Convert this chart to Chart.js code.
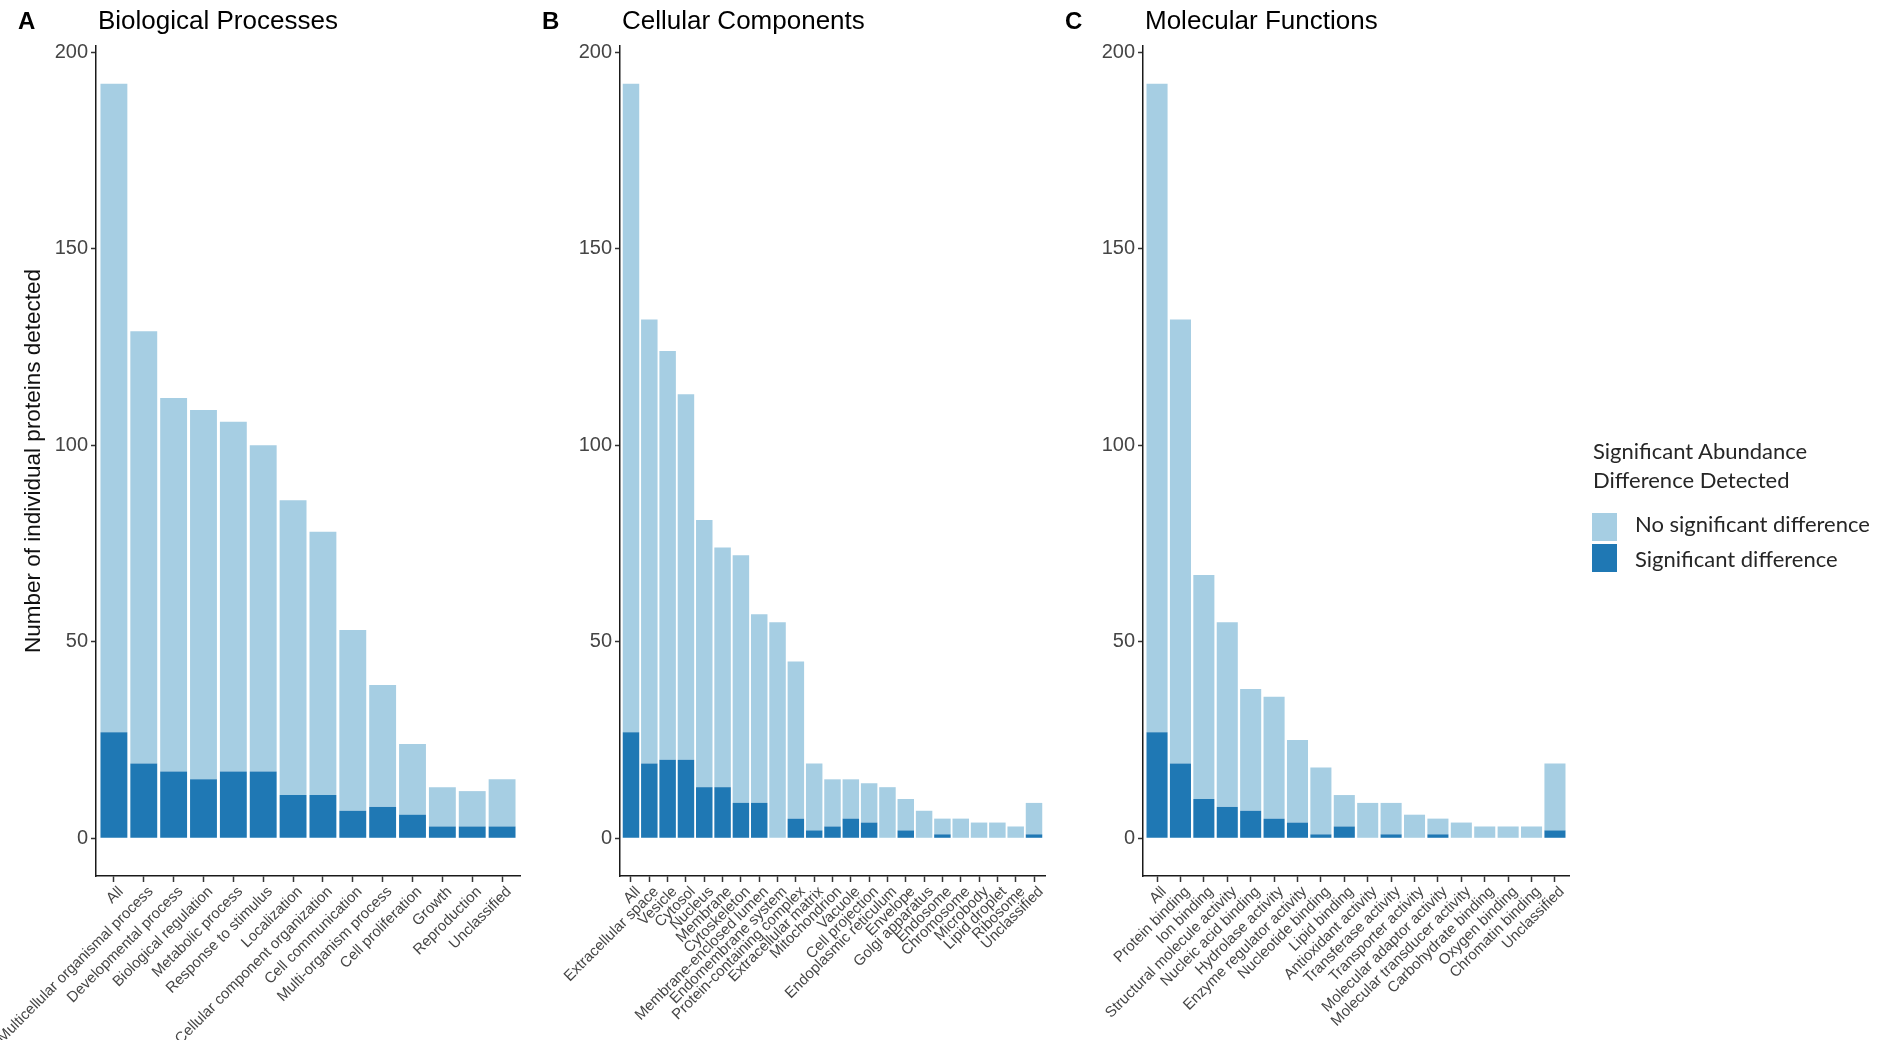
<!DOCTYPE html>
<html>
<head>
<meta charset="utf-8">
<script src="https://cdn.jsdelivr.net/npm/chart.js@4.4.0/dist/chart.umd.min.js"></script>
<style>
  html, body { margin: 0; padding: 0; background: #ffffff; }
  body { width: 1884px; height: 1040px; position: relative; overflow: hidden; }
  canvas { position: absolute; top: 0; }
  #legend { position: absolute; left: 0; top: 0; font-family: Lato, "Open Sans", sans-serif; color: #262626; }
  #legend .lt { position: absolute; left: 1593px; top: 436px; font-size: 22px; line-height: 29px; white-space: nowrap; }
  #legend .sw { position: absolute; left: 1592px; width: 25px; }
  #legend .lab { position: absolute; left: 1635px; font-size: 22px; line-height: 29px; white-space: nowrap; }
</style>
</head>
<body>
<canvas id="cA" width="560" height="1040" style="left:0px"></canvas>
<canvas id="cB" width="540" height="1040" style="left:540px"></canvas>
<canvas id="cC" width="560" height="1040" style="left:1060px"></canvas>
<div id="legend"></div>
<script>
// ---------------- data ----------------
const yTicks = [0, 50, 100, 150, 200];
const yTitle = 'Number of individual proteins detected';
const legendTitle = ['Significant Abundance', 'Difference Detected'];
const legendLabels = ['No significant difference', 'Significant difference'];

const bpTitle = 'Biological Processes';
const bpLabels = ['All', 'Multicellular organismal process', 'Developmental process', 'Biological regulation',
  'Metabolic process', 'Response to stimulus', 'Localization', 'Cellular component organization',
  'Cell communication', 'Multi-organism process', 'Cell proliferation', 'Growth', 'Reproduction', 'Unclassified'];
const bpSig   = [27, 19, 17, 15, 17, 17, 11, 11, 7, 8, 6, 3, 3, 3];
const bpNoSig = [165, 110, 95, 94, 89, 83, 75, 67, 46, 31, 18, 10, 9, 12];

const ccTitle = 'Cellular Components';
const ccLabels = ['All', 'Extracellular space', 'Vesicle', 'Cytosol', 'Nucleus', 'Membrane', 'Cytoskeleton',
  'Membrane-enclosed lumen', 'Endomembrane system', 'Protein-containing complex', 'Extracellular matrix',
  'Mitochondrion', 'Vacuole', 'Cell projection', 'Endoplasmic reticulum', 'Envelope', 'Golgi apparatus',
  'Endosome', 'Chromosome', 'Microbody', 'Lipid droplet', 'Ribosome', 'Unclassified'];
const ccSig   = [27, 19, 20, 20, 13, 13, 9, 9, 0, 5, 2, 3, 5, 4, 0, 2, 0, 1, 0, 0, 0, 0, 1];
const ccNoSig = [165, 113, 104, 93, 68, 61, 63, 48, 55, 40, 17, 12, 10, 10, 13, 8, 7, 4, 5, 4, 4, 3, 8];

const mfTitle = 'Molecular Functions';
const mfLabels = ['All', 'Protein binding', 'Ion binding', 'Structural molecule activity', 'Nucleic acid binding',
  'Hydrolase activity', 'Enzyme regulator activity', 'Nucleotide binding', 'Lipid binding', 'Antioxidant activity',
  'Transferase activity', 'Transporter activity', 'Molecular adaptor activity', 'Molecular transducer activity',
  'Carbohydrate binding', 'Oxygen binding', 'Chromatin binding', 'Unclassified'];
const mfSig   = [27, 19, 10, 8, 7, 5, 4, 1, 3, 0, 1, 0, 1, 0, 0, 0, 0, 2];
const mfNoSig = [165, 113, 57, 47, 31, 31, 21, 17, 8, 9, 8, 6, 4, 4, 3, 3, 3, 17];

// ---------------- style ----------------
const LIGHT = '#a6cee3';
const DARK = '#1f78b4';
const FONT = '"Liberation Sans", Arial, Helvetica, sans-serif';

const panelTitlePlugin = {
  id: 'panelTitle',
  afterDraw(chart, args, opts) {
    const ctx = chart.ctx;
    const x0 = chart.chartArea.left;
    ctx.save();
    ctx.fillStyle = '#000000';
    ctx.textAlign = 'left';
    ctx.textBaseline = 'alphabetic';
    ctx.font = 'bold 24px ' + FONT;
    ctx.fillText(opts.letter, x0 - 78, 29);
    ctx.font = '26px ' + FONT;
    ctx.fillText(opts.title, x0 + 2, 29);
    ctx.restore();
  }
};

function makePanel(id, labels, sig, noSig, letter, title, yWidth, padRight, showYTitle) {
  const N = labels.length;
  return new Chart(document.getElementById(id), {
    type: 'bar',
    data: {
      datasets: [
        { label: legendLabels[1], data: sig.map((v, i) => ({ x: i, y: v })), backgroundColor: DARK,
          categoryPercentage: 0.9, barPercentage: 1.0, borderWidth: 0 },
        { label: legendLabels[0], data: noSig.map((v, i) => ({ x: i, y: v })), backgroundColor: LIGHT,
          categoryPercentage: 0.9, barPercentage: 1.0, borderWidth: 0 }
      ]
    },
    options: {
      responsive: false,
      animation: false,
      layout: { padding: { top: 46, left: 0, right: padRight, bottom: 0 } },
      plugins: {
        legend: { display: false },
        tooltip: { enabled: false },
        panelTitle: { letter: letter, title: title }
      },
      scales: {
        x: {
          type: 'linear',
          stacked: true,
          offset: false,
          min: -0.6,
          max: N - 0.4,
          afterBuildTicks: s => { s.ticks = labels.map((_, i) => ({ value: i })); },
          afterFit: s => { s.height = 164; s.paddingLeft = 0; s.paddingRight = 0; },
          ticks: {
            autoSkip: false, minRotation: 45, maxRotation: 45, padding: 1, labelOffset: 7,
            color: '#454545', font: { family: FONT, size: 15 },
            callback: v => labels[v]
          },
          grid: { display: true, drawOnChartArea: false, offset: false, tickLength: 6, tickColor: '#333333', tickWidth: 1.5 },
          border: { display: true, color: '#1a1a1a', width: 1.5 }
        },
        y: {
          stacked: true,
          min: -9.6,
          max: 201.6,
          afterBuildTicks: s => { s.ticks = yTicks.map(v => ({ value: v })); },
          afterFit: s => { s.width = yWidth; s.paddingTop = 0; s.paddingBottom = 0; },
          ticks: { color: '#454545', font: { family: FONT, size: 20 }, padding: 3, callback: v => String(v) },
          grid: { display: true, drawOnChartArea: false, tickLength: 5, tickColor: '#333333', tickWidth: 1.5 },
          border: { display: true, color: '#1a1a1a', width: 1.5 },
          title: { display: showYTitle, text: yTitle, color: '#111111', font: { family: FONT, size: 22.5 }, padding: { top: 20, bottom: 0 } }
        }
      }
    },
    plugins: [panelTitlePlugin]
  });
}

makePanel('cA', bpLabels, bpSig, bpNoSig, 'A', bpTitle, 96, 40, true);
makePanel('cB', ccLabels, ccSig, ccNoSig, 'B', ccTitle, 80, 35, false);
makePanel('cC', mfLabels, mfSig, mfNoSig, 'C', mfTitle, 83, 51, false);

// ---------------- legend ----------------
(function () {
  const lg = document.getElementById('legend');
  const t = document.createElement('div');
  t.className = 'lt';
  t.innerHTML = legendTitle.join('<br>');
  lg.appendChild(t);
  const colors = [LIGHT, DARK];
  const swTop = [513, 544];
  const swH = [28, 28];
  const labTop = [509, 544];
  legendLabels.forEach((txt, i) => {
    const sw = document.createElement('div');
    sw.className = 'sw';
    sw.style.top = swTop[i] + 'px';
    sw.style.height = swH[i] + 'px';
    sw.style.background = colors[i];
    lg.appendChild(sw);
    const l = document.createElement('div');
    l.className = 'lab';
    l.style.top = labTop[i] + 'px';
    l.textContent = txt;
    lg.appendChild(l);
  });
})();
</script>
</body>
</html>
